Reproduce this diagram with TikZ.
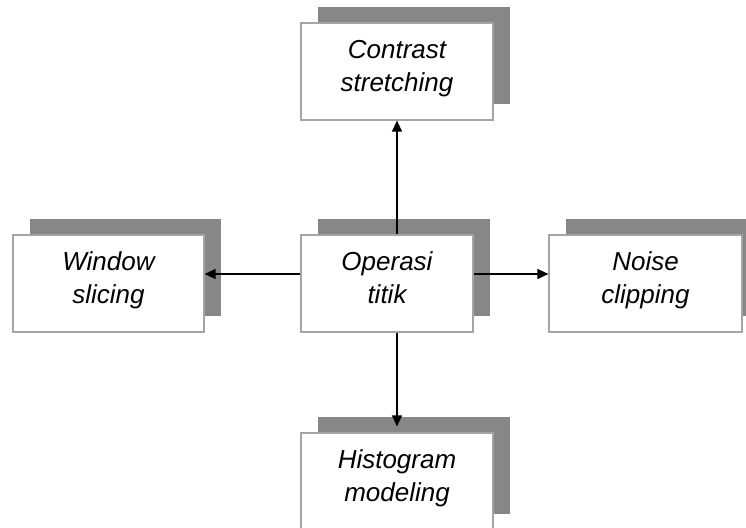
\documentclass[tikz,border=0pt]{standalone}
\usepackage{fontspec}
\setmainfont{Liberation Sans}
\usetikzlibrary{shadows,arrows.meta}

\definecolor{shadegray}{RGB}{135,135,135}
\definecolor{edgegray}{RGB}{165,165,165}
\newcommand{\twolines}[2]{\strut #1\\ #2\rule[-16pt]{0pt}{0pt}}

\begin{document}
\begin{tikzpicture}[x = 1pt, y = -1pt,
  opbox/.style = {draw = edgegray, line width = 1.2pt, fill = white, shape = rectangle,
    minimum width = 192pt, minimum height = 97pt, inner sep = 0pt, align = center,
    font = \itshape\fontsize{26}{33}\selectfont,
    general shadow = {fill = shadegray, shadow xshift = 17pt, shadow yshift = 16pt}},
  link/.style = {line width = 1.3pt, -{Triangle[length = 11pt, width = 10pt]}}]
\useasboundingbox (0,0) rectangle (746,527);
\fill[white] (0,0) rectangle (746,527);
\clip (0,0) rectangle (746,527);

\node[opbox, minimum width = 172pt] (op) at (387,283.5) {\twolines{Operasi}{titik}};
\node[opbox] (cs) at (397,71.5) {\twolines{Contrast}{stretching}};
\node[opbox, minimum width = 191pt] (ws) at (108.5,283.5) {\twolines{Window}{slicing}};
\node[opbox, minimum width = 193pt] (nc) at (645.5,283.5) {\twolines{Noise}{clipping}};
\node[opbox] (hm) at (397,481.5) {\twolines{Histogram}{modeling}};

\draw[link] (op.north -| cs.south) -- (cs.south);
\draw[link, shorten > = 6pt] (op.south -| hm.north) -- (hm.north);
\draw[link] ([yshift = 9.5pt]op.west) -- ([yshift = 9.5pt]ws.east);
\draw[link] ([yshift = 9.5pt]op.east) -- ([yshift = 9.5pt]nc.west);
\end{tikzpicture}
\end{document}
